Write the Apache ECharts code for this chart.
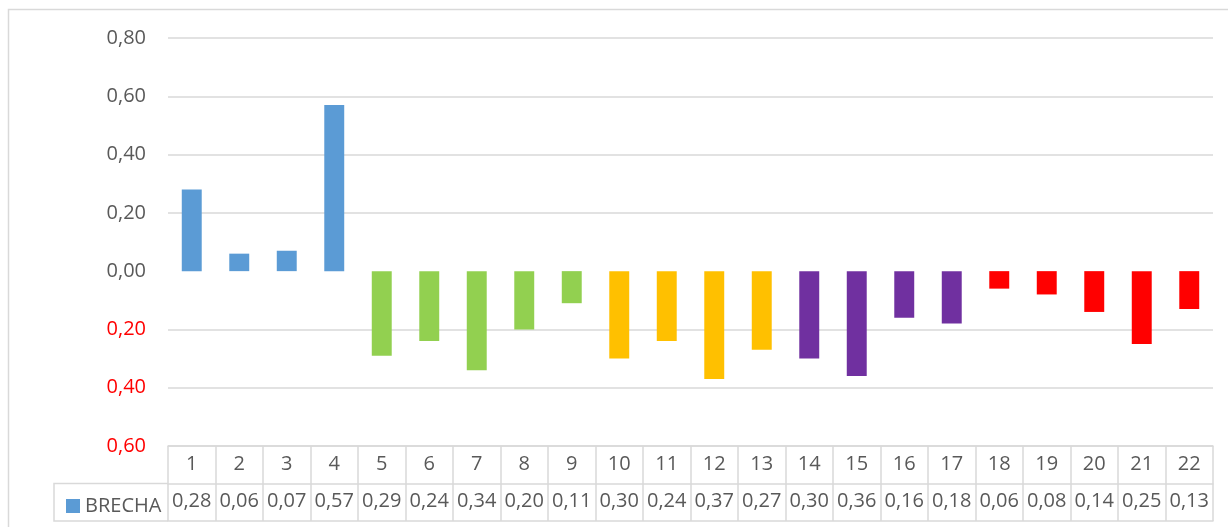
<!DOCTYPE html>
<html>
<head>
<meta charset="utf-8">
<script src="https://cdn.jsdelivr.net/npm/echarts@6/dist/echarts.min.js"></script>
<style>
  html, body { margin: 0; padding: 0; background: #ffffff; }
  #chart { width: 1228px; height: 527px; }
</style>
</head>
<body>
<div id="chart"></div>
<script>
// Category numbers shown along the data table header
const categories = ['1','2','3','4','5','6','7','8','9','10','11','12','13','14','15','16','17','18','19','20','21','22'];
// BRECHA values per category
const brecha = [0.28, 0.06, 0.07, 0.57, -0.29, -0.24, -0.34, -0.20, -0.11, -0.30, -0.24, -0.37, -0.27, -0.30, -0.36, -0.16, -0.18, -0.06, -0.08, -0.14, -0.25, -0.13];
// Group each category belongs to (drives the bar colour)
const groups = [0, 0, 0, 0, 1, 1, 1, 1, 1, 2, 2, 2, 2, 3, 3, 3, 3, 4, 4, 4, 4, 4];
// Y axis range and step
const yTicks = [-0.6, -0.4, -0.2, 0, 0.2, 0.4, 0.6, 0.8];

const groupColors = ['#5B9BD5', '#92D050', '#FFC000', '#7030A0', '#FF0000'];
const FONT = '"Open Sans", "Noto Sans", sans-serif';
const TEXT = '#595959';
const RULE = '#D9D9D9';

const fmt = v => Math.abs(v).toFixed(2).replace('.', ',');

const chart = echarts.init(document.getElementById('chart'), null, { renderer: 'canvas' });

const gridLeft = 168, gridRight = 15, gridTop = 38, gridBottom = 81;
const rowH = 37.5;

chart.setOption({
  animation: false,
  backgroundColor: '#ffffff',
  textStyle: { fontFamily: FONT },
  grid: { left: gridLeft, right: gridRight, top: gridTop, bottom: gridBottom, containLabel: false },
  legend: {
    left: 61,
    top: 491,
    icon: 'rect',
    itemWidth: 14,
    itemHeight: 14,
    itemGap: 5,
    textStyle: { color: TEXT, fontSize: 20, fontFamily: FONT },
    data: ['BRECHA']
  },
  yAxis: {
    type: 'value',
    min: yTicks[0],
    max: yTicks[yTicks.length - 1],
    interval: 0.2,
    axisLine: { show: false },
    axisTick: { show: false },
    axisLabel: {
      margin: 22,
      fontSize: 20,
      fontFamily: FONT,
      formatter: v => fmt(v),
      color: v => (Number(v) < -1e-9 ? '#FF0000' : TEXT)
    },
    splitLine: {
      show: true,
      lineStyle: {
        width: 1.5,
        color: yTicks.map(t => (Math.abs(t) < 1e-9 ? 'rgba(0,0,0,0)' : RULE))
      }
    }
  },
  xAxis: [
    {
      type: 'category',
      data: categories,
      position: 'bottom',
      axisLine: { show: true, onZero: false, lineStyle: { color: RULE, width: 1.5 } },
      axisTick: { show: true, length: rowH * 2, lineStyle: { color: RULE, width: 1.5 } },
      axisLabel: { margin: 8, fontSize: 20, color: TEXT, fontFamily: FONT, interval: 0 },
      splitLine: { show: false }
    },
    {
      type: 'category',
      data: categories,
      position: 'bottom',
      offset: rowH,
      axisLine: { show: true, onZero: false, lineStyle: { color: RULE, width: 1.5 } },
      axisTick: { show: false },
      axisLabel: {
        margin: 8, fontSize: 20, color: TEXT, fontFamily: FONT, interval: 0,
        formatter: (v, i) => fmt(brecha[i])
      }
    },
    {
      type: 'category',
      data: categories,
      position: 'bottom',
      offset: rowH * 2,
      axisLine: { show: true, onZero: false, lineStyle: { color: RULE, width: 1.5 } },
      axisTick: { show: false },
      axisLabel: { show: false }
    }
  ],
  series: [
    {
      name: 'BRECHA',
      type: 'bar',
      xAxisIndex: 0,
      barWidth: '42%',
      itemStyle: { color: groupColors[0] },
      data: brecha.map((v, i) => ({ value: v, itemStyle: { color: groupColors[groups[i]] } }))
    }
  ],
  graphic: [
    {
      type: 'rect',
      silent: true,
      shape: { x: 8.5, y: 9.5, width: 1240, height: 540 },
      style: { fill: 'none', stroke: RULE, lineWidth: 1.5 }
    },
    {
      type: 'polyline',
      silent: true,
      shape: { points: [[gridLeft, 446 + rowH], [54, 446 + rowH], [54, 446 + rowH * 2], [gridLeft, 446 + rowH * 2]] },
      style: { fill: 'none', stroke: RULE, lineWidth: 1.5 }
    }
  ]
});
</script>
</body>
</html>
